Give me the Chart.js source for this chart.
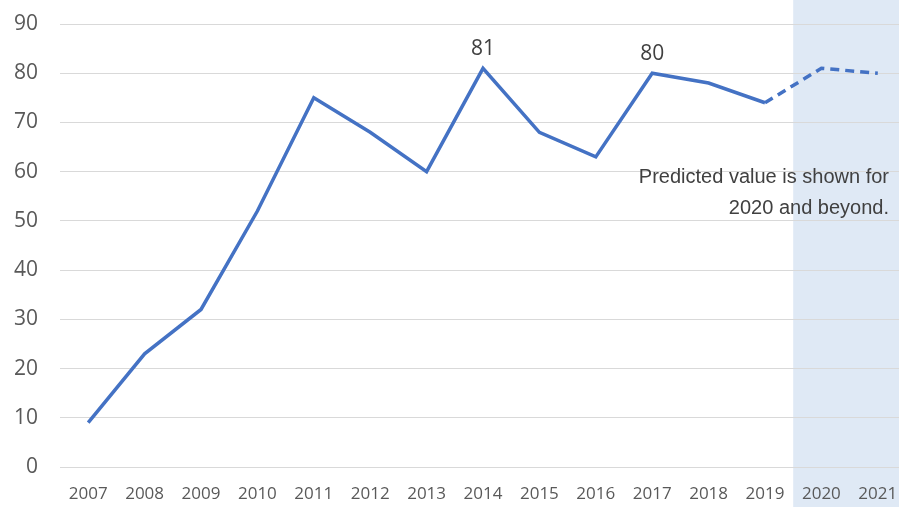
<!DOCTYPE html>
<html>
<head>
<meta charset="utf-8">
<script src="https://cdn.jsdelivr.net/npm/chart.js@4/dist/chart.umd.min.js"></script>
<style>
  html, body { margin: 0; padding: 0; background: #fff; overflow: hidden; }
  #wrap { width: 910px; height: 507px; position: relative; }
</style>
</head>
<body>
<div id="wrap"><canvas id="trendChart"></canvas></div>
<script>
const years = ['2007', '2008', '2009', '2010', '2011', '2012', '2013', '2014', '2015', '2016', '2017', '2018', '2019', '2020', '2021'];
const values = [9, 23, 32, 52, 75, 68, 60, 81, 68, 63, 80, 78, 74, 81, 80];
const firstPredictedYear = '2020';
const labeledYears = ['2014', '2017'];
const noteLines = ['Predicted value is shown for', '2020 and beyond.'];
const yTicks = [0, 10, 20, 30, 40, 50, 60, 70, 80, 90];

const predictedIndex = years.indexOf(firstPredictedYear);

// Shaded band behind the forecast years, plus value labels and the note
const forecastPlugin = {
    id: 'forecast',
    beforeDraw(chart) {
        const x = chart.scales.x;
        const ctx = chart.ctx;
        const left = (x.getPixelForValue(predictedIndex - 1) + x.getPixelForValue(predictedIndex)) / 2;
        ctx.save();
        ctx.fillStyle = '#dfe9f5';
        ctx.fillRect(left, 0, chart.width - left, chart.height);
        ctx.restore();
    },
    afterDatasetsDraw(chart) {
        const ctx = chart.ctx;
        const meta = chart.getDatasetMeta(0);
        ctx.save();
        ctx.fillStyle = '#404040';
        ctx.font = '21px "Open Sans", sans-serif';
        ctx.textAlign = 'center';
        ctx.textBaseline = 'bottom';
        labeledYears.forEach(function(yr) {
            const i = years.indexOf(yr);
            const pt = meta.data[i];
            ctx.fillText(String(values[i]), pt.x, pt.y - 9);
        });
        ctx.font = '20px "Liberation Sans", Arial, sans-serif';
        ctx.textAlign = 'right';
        ctx.textBaseline = 'middle';
        ctx.fillText(noteLines[0], 889, 177);
        ctx.fillText(noteLines[1], 889, 208);
        ctx.restore();
    }
};

const ctx = document.getElementById('trendChart').getContext('2d');
const trendChart = new Chart(ctx, {
    type: 'line',
    data: {
        labels: years,
        datasets: [{
            data: values,
            borderColor: '#4472c4',
            borderWidth: 3.5,
            pointRadius: 0,
            tension: 0,
            segment: {
                borderDash: c => c.p1DataIndex >= predictedIndex ? [9, 6] : undefined
            }
        }]
    },
    options: {
        responsive: true,
        maintainAspectRatio: false,
        animation: false,
        layout: { padding: { top: 24, right: 4, left: 0, bottom: 0 } },
        plugins: {
            legend: { display: false },
            tooltip: { enabled: false }
        },
        scales: {
            x: {
                offset: true,
                grid: { display: false },
                border: { display: false },
                ticks: {
                    color: '#595959',
                    font: { size: 17, family: '"Open Sans", sans-serif' },
                    padding: 9,
                    maxRotation: 0,
                    autoSkip: false
                },
                afterFit(scale) { scale.height = 40; }
            },
            y: {
                min: 0,
                max: 90,
                afterBuildTicks(scale) { scale.ticks = yTicks.map(v => ({ value: v })); },
                grid: { color: '#d9d9d9', lineWidth: 1, drawTicks: false },
                border: { display: false },
                ticks: {
                    color: '#595959',
                    font: { size: 21, family: '"Open Sans", sans-serif' },
                    padding: 22
                },
                afterFit(scale) {
                    scale.width = 60;
                    scale.paddingTop = 0;
                    scale.paddingBottom = 0;
                }
            }
        }
    },
    plugins: [forecastPlugin]
});
</script>
</body>
</html>
